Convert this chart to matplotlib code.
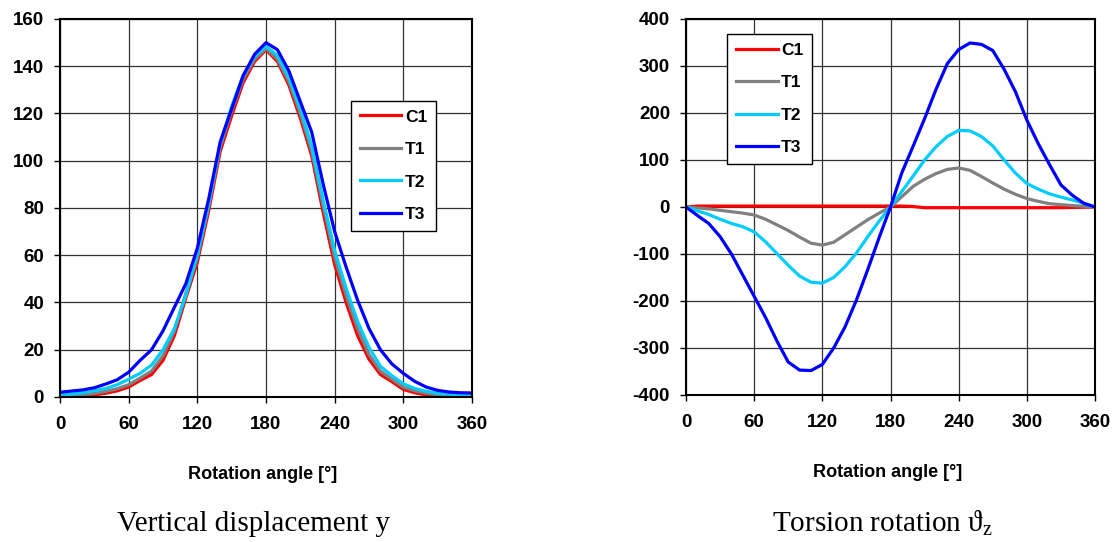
import matplotlib
matplotlib.use("Agg")
import matplotlib.pyplot as plt
import numpy as np

plt.rcParams['font.family'] = ['Liberation Sans', 'DejaVu Sans']
plt.rcParams['axes.unicode_minus'] = False
plt.rcParams['mathtext.fontset'] = 'custom'
plt.rcParams['mathtext.rm'] = 'Liberation Serif'

angle = np.arange(0, 361, 10)

# vertical displacement y
disp_c1 = [0, 0.1, 0.4, 0.9, 1.6, 2.6, 4.2, 7, 9.5, 15.5, 26, 42, 57, 79, 104, 119, 133, 142, 147,
           142, 132, 118, 102, 78, 56, 40, 26, 16, 9.5, 6.5, 3.2, 1.8, 0.9, 0.4, 0.1, 0, 0]
disp_t1 = [0.3, 0.5, 0.9, 1.5, 2.4, 3.5, 5.2, 8, 11, 17.5, 28, 44, 59, 81, 106, 121, 134.5, 143, 147.5,
           143, 133.5, 120, 104, 81, 59, 43, 29, 18, 11, 7.5, 4.2, 2.6, 1.6, 0.9, 0.5, 0.3, 0.3]
disp_t2 = [0.9, 1.2, 1.8, 2.6, 3.6, 5.2, 7.5, 10, 13.5, 20, 29, 43, 60, 82, 107, 123, 136, 144, 148.5,
           144.5, 135, 122, 106, 83, 62, 46, 32, 21, 13, 9, 5.6, 3.6, 2.4, 1.6, 1.2, 0.9, 0.8]
disp_t3 = [2.0, 2.5, 3.0, 3.9, 5.5, 7.3, 10.5, 15.5, 20, 28, 38, 48, 63, 84, 108, 122, 136, 145, 150,
           147, 138, 125, 112, 90, 70, 55, 41, 29, 20, 14, 10, 6.6, 4.2, 2.8, 2.1, 1.8, 1.7]

# torsion rotation
tors_c1 = [0, 2, 2, 2, 2, 2, 2, 2, 2, 2, 2, 2, 2, 2, 2, 2, 2, 2, 2,
           2, 1, -1.5, -1.5, -1.5, -1.5, -1.5, -1.5, -1.5, -1.5, -1.5, -1.5, -1.5, -1.5, -1.5, -1, -0.5, 0]
tors_t1 = [0, -2, -4, -7, -10, -13, -17, -26, -38, -50, -64, -77, -81, -75, -59, -43, -27, -13, 0,
           22, 44, 59, 71, 80, 83, 78, 65, 51, 38, 27, 18, 12, 7, 5, 3, 1.5, 0]
tors_t2 = [0, -8, -16, -26, -35, -42, -53, -74, -99, -124, -147, -160, -162, -150, -127, -98, -63, -30, 0,
           33, 66, 100, 128, 150, 163, 162, 150, 130, 100, 72, 50, 38, 28, 21, 15, 8, 0]
tors_t3 = [0, -18, -35, -63, -100, -145, -190, -235, -285, -330, -347, -348, -335, -300, -255, -198, -133, -65, 0,
           73, 130, 188, 250, 305, 335, 349, 346, 333, 293, 245, 185, 135, 90, 47, 25, 8, 0]

names = ['C1', 'T1', 'T2', 'T3']
colors = ['#FF0000', '#808080', '#00CCFF', '#0000FF']

fig = plt.figure(figsize=(11.16, 5.42), dpi=100)
ax1 = fig.add_axes([0.05376, 0.26753, 0.36918, 0.69742])
ax2 = fig.add_axes([0.61470, 0.27122, 0.36649, 0.69373])


def style(ax, yticks, ylim, lab_x):
    ax.set_xlim(0, 360)
    ax.set_ylim(*ylim)
    ax.set_xticks(range(0, 361, 60))
    ax.set_yticks(yticks)
    ax.grid(True, color='#333333', linewidth=0.9)
    ax.set_axisbelow(True)
    for s in ax.spines.values():
        s.set_linewidth(1.5)
        s.set_color('black')
    ax.tick_params(direction='out', length=4.5, width=1, labelsize=13.5)
    ax.tick_params(axis='x', pad=9.5)
    ax.tick_params(axis='y', pad=7)
    for t in ax.get_xticklabels() + ax.get_yticklabels():
        t.set_fontweight('bold')
    ax.set_xlabel('Rotation angle [°]', fontsize=13, fontweight='bold')
    ax.xaxis.label.set_va('baseline')
    ax.xaxis.set_label_coords(lab_x, -0.2169)


for vals, name, c in zip([disp_c1, disp_t1, disp_t2, disp_t3], names, colors):
    ax1.plot(angle, vals, color=c, linewidth=2.3, label=name)
for vals, name, c in zip([tors_c1, tors_t1, tors_t2, tors_t3], names, colors):
    ax2.plot(angle, vals, color=c, linewidth=2.3, label=name)

style(ax1, range(0, 161, 20), (0, 160), 0.4927)
style(ax2, range(-400, 401, 100), (-400, 400), 0.4932)

leg_kw = dict(loc='upper left', bbox_transform=fig.transFigure, fancybox=False,
              edgecolor='black', framealpha=1, handlelength=2.4, handletextpad=0.2,
              labelspacing=1.0, borderpad=0.5, borderaxespad=0,
              prop={'weight': 'bold', 'size': 12.5})
l1 = ax1.legend(bbox_to_anchor=(0.3145, 0.8142), **leg_kw)
l2 = ax2.legend(bbox_to_anchor=(0.6517, 0.9373), **leg_kw)
for leg in (l1, l2):
    leg.get_frame().set_linewidth(1.0)
    for h in leg.get_lines():
        h.set_linewidth(2.3)

fig.text(0.2276, 0.0203, 'Vertical displacement y', ha='center', va='baseline',
         fontsize=21, family=['Liberation Serif', 'DejaVu Serif'])
fig.text(0.7903, 0.0203, 'Torsion rotation ϑ$_\\mathrm{z}$', ha='center', va='baseline',
         fontsize=21, family=['Liberation Serif', 'DejaVu Serif'])

fig.savefig('out.png', dpi=100)
